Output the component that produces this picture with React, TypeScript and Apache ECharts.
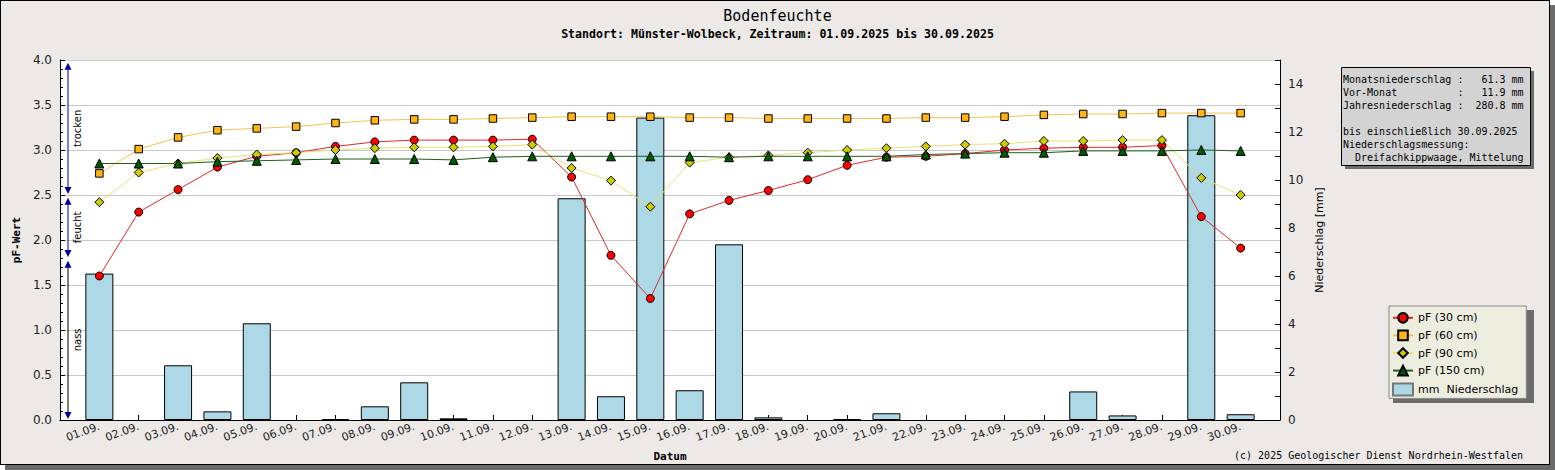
import React, { useEffect, useRef } from 'react';
import * as echarts from 'echarts';

const days = [
  '01.09.', '02.09.', '03.09.', '04.09.', '05.09.', '06.09.', '07.09.', '08.09.', '09.09.', '10.09.',
  '11.09.', '12.09.', '13.09.', '14.09.', '15.09.', '16.09.', '17.09.', '18.09.', '19.09.', '20.09.',
  '21.09.', '22.09.', '23.09.', '24.09.', '25.09.', '26.09.', '27.09.', '28.09.', '29.09.', '30.09.',
];
const pf30 = [1.60, 2.31, 2.56, 2.81, 2.93, 2.97, 3.04, 3.09, 3.11, 3.11, 3.11, 3.12, 2.70, 1.83, 1.35, 2.29, 2.44, 2.55, 2.67, 2.83, 2.92, 2.93, 2.96, 3.00, 3.02, 3.03, 3.03, 3.05, 2.26, 1.91];
const pf60 = [2.74, 3.01, 3.14, 3.22, 3.24, 3.26, 3.30, 3.33, 3.34, 3.34, 3.35, 3.36, 3.37, 3.37, 3.37, 3.36, 3.36, 3.35, 3.35, 3.35, 3.35, 3.36, 3.36, 3.37, 3.39, 3.40, 3.40, 3.41, 3.41, 3.41];
const pf90 = [2.42, 2.75, 2.85, 2.91, 2.95, 2.97, 3.00, 3.02, 3.03, 3.03, 3.04, 3.06, 2.80, 2.66, 2.37, 2.86, 2.92, 2.94, 2.97, 3.00, 3.02, 3.04, 3.06, 3.07, 3.10, 3.10, 3.11, 3.11, 2.69, 2.50];
const pf150 = [2.85, 2.85, 2.85, 2.87, 2.88, 2.89, 2.90, 2.90, 2.90, 2.89, 2.92, 2.93, 2.93, 2.93, 2.93, 2.93, 2.92, 2.93, 2.93, 2.93, 2.93, 2.95, 2.96, 2.97, 2.97, 2.99, 2.99, 2.99, 3.00, 2.99];
const rain = [6.1, 0, 2.28, 0.36, 4.03, 0, 0.04, 0.57, 1.57, 0.07, 0, 0, 9.24, 0.99, 12.6, 1.24, 7.32, 0.11, 0, 0.04, 0.28, 0, 0, 0, 0, 1.19, 0.19, 0, 12.7, 0.24];

const seriesNames = ['pF (30 cm)', 'pF (60 cm)', 'pF (90 cm)', 'pF (150 cm)', 'mm  Niederschlag'];

const zoneTop = [3.97, 2.47, 1.77];
const zoneBottom = [2.51, 1.81, 0.01];
const zoneLabels = ['trocken', 'feucht', 'nass'];

const infoLines = [
  'Monatsniederschlag :   61.3 mm',
  'Vor-Monat          :   11.9 mm',
  'Jahresniederschlag :  280.8 mm',
  '',
  'bis einschließlich 30.09.2025',
  'Niederschlagsmessung:',
  '  Dreifachkippwaage, Mittelung',
];

const titleText = 'Bodenfeuchte';
const subtitleText = 'Standort: Münster-Wolbeck, Zeitraum: 01.09.2025 bis 30.09.2025';
const copyrightText = '(c) 2025 Geologischer Dienst Nordrhein-Westfalen';

const toPairs = (arr: number[]) => arr.map((v, i) => [i + 1, v]);

export default function App() {
  const ref = useRef<HTMLDivElement>(null);

  useEffect(() => {
    document.body.style.margin = '0';
    if (!ref.current) return;
    const chart = echarts.init(ref.current, null, { renderer: 'svg' });
    const mono = '"DejaVu Sans Mono"';
    const sans = '"DejaVu Sans"';

    const lineSeries = (name: string, data: number[], symbol: string, size: number, lineColor: string, fill: string) => ({
      name,
      type: 'line',
      data: toPairs(data),
      symbol,
      symbolSize: size,
      lineStyle: { color: lineColor, width: 1 },
      itemStyle: { color: fill, borderColor: '#000', borderWidth: 1 },
      z: 5,
    });

    chart.setOption({
      animation: false,
      backgroundColor: 'transparent',
      title: [
        {
          text: titleText,
          left: 'center',
          top: 3,
          textStyle: { fontFamily: mono, fontSize: 15, fontWeight: 'normal', color: '#000' },
        },
        {
          text: subtitleText,
          left: 'center',
          top: 23,
          textStyle: { fontFamily: mono, fontSize: 11.6, fontWeight: 'bold', color: '#000' },
        },
      ],
      grid: {
        left: 60,
        right: 275,
        top: 60,
        bottom: 50,
        show: true,
        backgroundColor: '#fff',
        borderWidth: 0,
      },
      legend: {
        orient: 'vertical',
        left: 1389,
        top: 306,
        padding: [6, 8, 2, 3],
        itemGap: 6,
        itemWidth: 20,
        itemHeight: 12,
        backgroundColor: '#ededdf',
        borderColor: '#888',
        borderWidth: 1,
        textStyle: { fontFamily: sans, fontSize: 11, color: '#000' },
        data: [
          seriesNames[0],
          seriesNames[1],
          seriesNames[2],
          seriesNames[3],
          { name: seriesNames[4], icon: 'rect', itemStyle: { borderColor: '#777' } },
        ],
      },
      xAxis: {
        type: 'value',
        min: 0,
        max: 31,
        interval: 1,
        axisLine: { lineStyle: { color: '#000' } },
        axisTick: { inside: true, length: 5, lineStyle: { color: '#000' } },
        axisLabel: {
          rotate: 20,
          margin: 6,
          fontSize: 11,
          fontFamily: sans,
          color: '#222',
          formatter: (v: number) => days[v - 1] ?? '',
        },
        splitLine: { show: false },
        name: 'Datum',
        nameLocation: 'middle',
        nameGap: 31,
        nameTextStyle: { fontFamily: mono, fontWeight: 'bold', fontSize: 11, color: '#000' },
      },
      yAxis: [
        {
          type: 'value',
          min: 0,
          max: 4,
          interval: 0.5,
          position: 'left',
          axisLine: { show: true, lineStyle: { color: '#000' } },
          axisTick: { show: true, inside: true, length: 5, lineStyle: { color: '#000' } },
          minorTick: { show: true, splitNumber: 5, length: 3, lineStyle: { color: '#000' } },
          axisLabel: { formatter: (v: number) => v.toFixed(1), fontSize: 12, fontFamily: sans, color: '#222', margin: 8 },
          splitLine: { show: true, lineStyle: { color: '#c8c8c8', width: 1 } },
          name: 'pF-Wert',
          nameLocation: 'middle',
          nameGap: 38,
          nameRotate: 90,
          nameTextStyle: { fontFamily: mono, fontWeight: 'bold', fontSize: 11, color: '#000' },
        },
        {
          type: 'value',
          min: 0,
          max: 15,
          interval: 1,
          position: 'right',
          axisLine: { show: true, lineStyle: { color: '#000' } },
          axisTick: { show: true, inside: true, length: 5, lineStyle: { color: '#000' } },
          axisLabel: {
            formatter: (v: number) => (v % 2 === 0 ? String(v) : ''),
            fontSize: 12,
            fontFamily: sans,
            color: '#222',
            margin: 8,
          },
          splitLine: { show: false },
          name: 'Niederschlag [mm]',
          nameLocation: 'middle',
          nameGap: 31,
          nameRotate: 90,
          nameTextStyle: { fontFamily: sans, fontSize: 11, color: '#000' },
        },
      ],
      graphic: [
        { type: 'rect', z: 1, shape: { x: 1345, y: 71, width: 189, height: 98 }, style: { fill: '#6b6b6b' } },
        { type: 'rect', z: 2, shape: { x: 1341.5, y: 67.5, width: 189, height: 98 }, style: { fill: '#d3d3d3', stroke: '#000', lineWidth: 1 } },
        {
          type: 'text',
          z: 3,
          x: 1343,
          y: 73,
          style: { text: infoLines.join('\n'), font: `10px ${mono}`, fill: '#000', lineHeight: 13 },
        },
        { type: 'rect', z: 1, shape: { x: 1393, y: 310, width: 141, height: 93 }, style: { fill: '#6b6b6b' } },
        {
          type: 'text',
          z: 3,
          x: 1523,
          y: 455,
          style: { text: copyrightText, font: `10px ${mono}`, fill: '#000', align: 'right', verticalAlign: 'middle' },
        },
      ],
      series: [
        lineSeries(seriesNames[0], pf30, 'circle', 8, '#e02828', '#ff0000'),
        lineSeries(seriesNames[1], pf60, 'rect', 7.5, '#f2c250', '#ffb414'),
        lineSeries(seriesNames[2], pf90, 'diamond', 9, '#e4e474', '#cccc00'),
        lineSeries(seriesNames[3], pf150, 'triangle', 9, '#1e5e1e', '#005a00'),
        {
          name: seriesNames[4],
          type: 'bar',
          yAxisIndex: 1,
          data: toPairs(rain).filter((p) => p[1] > 0),
          barWidth: 28,
          itemStyle: { color: '#add8e6', borderColor: '#000', borderWidth: 1 },
          z: 1,
        },
        {
          type: 'custom',
          silent: true,
          z: 3,
          data: zoneTop.map((t, i) => [0, t, zoneBottom[i]]),
          encode: { x: 0, y: 1 },
          renderItem: (params: any, api: any) => {
            const i = params.dataIndex;
            const top = api.coord([api.value(0), api.value(1)]);
            const bot = api.coord([api.value(0), api.value(2)]);
            const x = top[0] + 8;
            const lineColor = i === 2 ? '#000' : '#0000a0';
            return {
              type: 'group',
              children: [
                { type: 'line', shape: { x1: x, y1: top[1] + 4, x2: x, y2: bot[1] - 4 }, style: { stroke: lineColor, lineWidth: 1 } },
                { type: 'polygon', shape: { points: [[x, top[1]], [x - 3.5, top[1] + 7], [x + 3.5, top[1] + 7]] }, style: { fill: '#0000a0' } },
                { type: 'polygon', shape: { points: [[x, bot[1]], [x - 3.5, bot[1] - 7], [x + 3.5, bot[1] - 7]] }, style: { fill: '#0000a0' } },
                {
                  type: 'text',
                  x: x + 4,
                  y: (top[1] + bot[1]) / 2,
                  rotation: Math.PI / 2,
                  style: { text: zoneLabels[i], align: 'center', verticalAlign: 'top', font: `10px ${sans}`, fill: '#000' },
                },
              ],
            };
          },
        },
      ],
    } as any);

    return () => chart.dispose();
  }, []);

  return (
    <div style={{ position: 'relative', width: 1555, height: 470, overflow: 'hidden', background: '#fff' }}>
      <div
        style={{
          position: 'absolute',
          left: 0,
          top: 0,
          width: 1550,
          height: 465,
          boxSizing: 'border-box',
          border: '1px solid #000',
          background: '#ECE9E7',
          boxShadow: '5px 5px 0 #6b6b6b',
        }}
      />
      <div ref={ref} style={{ position: 'absolute', left: 0, top: 0, width: 1555, height: 470 }} />
    </div>
  );
}
